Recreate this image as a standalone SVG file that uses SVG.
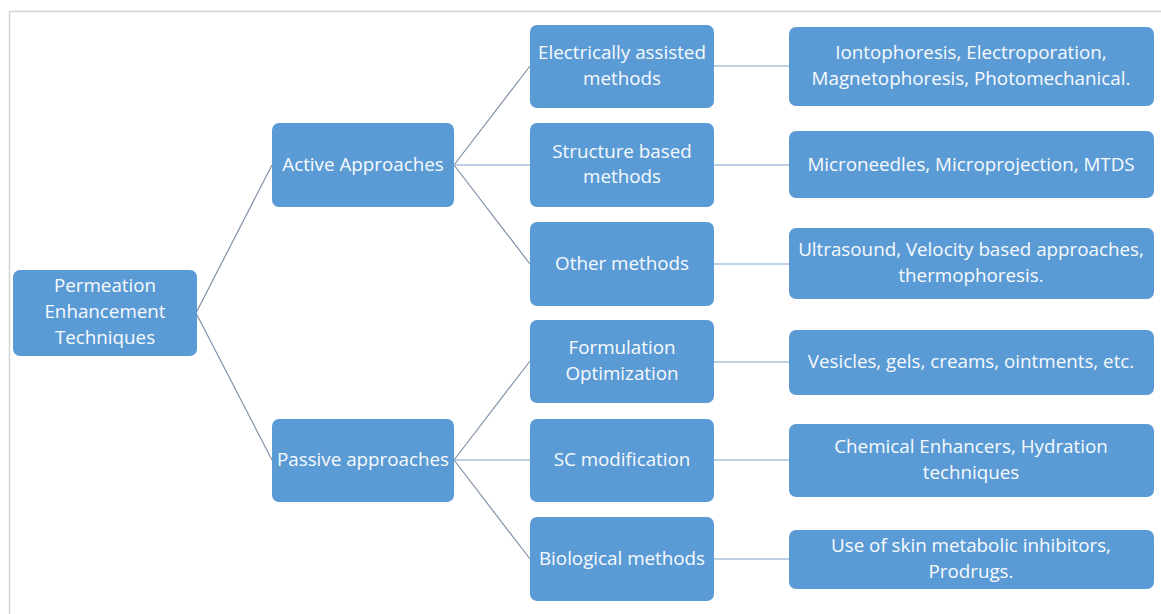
<svg xmlns="http://www.w3.org/2000/svg" width="1161" height="614" viewBox="0 0 1161 614">
<style>
.box{fill:#5B9BD5;}
.t{font-family:"Open Sans","Liberation Sans",sans-serif;font-size:18.8px;fill:#f7fafd;text-anchor:middle;}
.d{stroke:#7f92a8;stroke-width:1.2;fill:none;}
.h{stroke:#a8c2dc;stroke-width:1.5;fill:none;}
.frame{stroke:#d4d4d4;stroke-width:1.5;fill:none;}
</style>
<rect width="1161" height="614" fill="#ffffff"/>
<path class="frame" d="M9.5,614 V11.5 H1161"/>
<g id="connectors">
<line class="d" x1="196" y1="313" x2="272" y2="165"/>
<line class="d" x1="196" y1="313" x2="272" y2="460"/>
<line class="d" x1="454" y1="165" x2="530" y2="66"/>
<line class="h" x1="454" y1="165" x2="530" y2="165"/>
<line class="d" x1="454" y1="165" x2="530" y2="264"/>
<line class="d" x1="454" y1="460" x2="530" y2="361"/>
<line class="h" x1="454" y1="460" x2="530" y2="460"/>
<line class="d" x1="454" y1="460" x2="530" y2="559"/>
<line class="h" x1="714" y1="66" x2="789" y2="66"/>
<line class="h" x1="714" y1="165" x2="789" y2="165"/>
<line class="h" x1="714" y1="264" x2="789" y2="264"/>
<line class="h" x1="714" y1="362" x2="789" y2="362"/>
<line class="h" x1="714" y1="460" x2="789" y2="460"/>
<line class="h" x1="714" y1="559" x2="789" y2="559"/>
</g>
<g id="root">
<rect class="box" x="13" y="270" width="184" height="86" rx="7"/>
<text class="t" x="105" y="292.4">Permeation</text>
<text class="t" x="105" y="318">Enhancement</text>
<text class="t" x="105" y="343.6">Techniques</text>
</g>
<g id="active">
<rect class="box" x="272" y="123" width="182" height="84" rx="7"/>
<text class="t" x="363" y="171">Active Approaches</text>
</g>
<g id="passive">
<rect class="box" x="272" y="419" width="182" height="83" rx="7"/>
<text class="t" x="363" y="466">Passive approaches</text>
</g>
<g id="electrical">
<rect class="box" x="530" y="25" width="184" height="83" rx="7"/>
<text class="t" x="622" y="59.2">Electrically assisted</text>
<text class="t" x="622" y="84.8">methods</text>
</g>
<g id="structure">
<rect class="box" x="530" y="123" width="184" height="84" rx="7"/>
<text class="t" x="622" y="157.7">Structure based</text>
<text class="t" x="622" y="183.3">methods</text>
</g>
<g id="other">
<rect class="box" x="530" y="222" width="184" height="84" rx="7"/>
<text class="t" x="622" y="270">Other methods</text>
</g>
<g id="formulation">
<rect class="box" x="530" y="320" width="184" height="83" rx="7"/>
<text class="t" x="622" y="354.2">Formulation</text>
<text class="t" x="622" y="379.8">Optimization</text>
</g>
<g id="sc">
<rect class="box" x="530" y="419" width="184" height="83" rx="7"/>
<text class="t" x="622" y="466">SC modification</text>
</g>
<g id="biological">
<rect class="box" x="530" y="517" width="184" height="84" rx="7"/>
<text class="t" x="622" y="565">Biological methods</text>
</g>
<g id="electrical-list">
<rect class="box" x="789" y="27" width="365" height="79" rx="7"/>
<text class="t" x="971" y="59.2">Iontophoresis, Electroporation,</text>
<text class="t" x="971" y="84.8">Magnetophoresis, Photomechanical.</text>
</g>
<g id="structure-list">
<rect class="box" x="789" y="131" width="365" height="67" rx="7"/>
<text class="t" x="971" y="171">Microneedles, Microprojection, MTDS</text>
</g>
<g id="other-list">
<rect class="box" x="789" y="228" width="365" height="71" rx="7"/>
<text class="t" x="971" y="256.2">Ultrasound, Velocity based approaches,</text>
<text class="t" x="971" y="281.8">thermophoresis.</text>
</g>
<g id="formulation-list">
<rect class="box" x="789" y="330" width="365" height="65" rx="7"/>
<text class="t" x="971" y="368">Vesicles, gels, creams, ointments, etc.</text>
</g>
<g id="sc-list">
<rect class="box" x="789" y="424" width="365" height="73" rx="7"/>
<text class="t" x="971" y="453.2">Chemical Enhancers, Hydration</text>
<text class="t" x="971" y="478.8">techniques</text>
</g>
<g id="biological-list">
<rect class="box" x="789" y="530" width="365" height="59" rx="7"/>
<text class="t" x="971" y="552.2">Use of skin metabolic inhibitors,</text>
<text class="t" x="971" y="577.8">Prodrugs.</text>
</g>
</svg>
